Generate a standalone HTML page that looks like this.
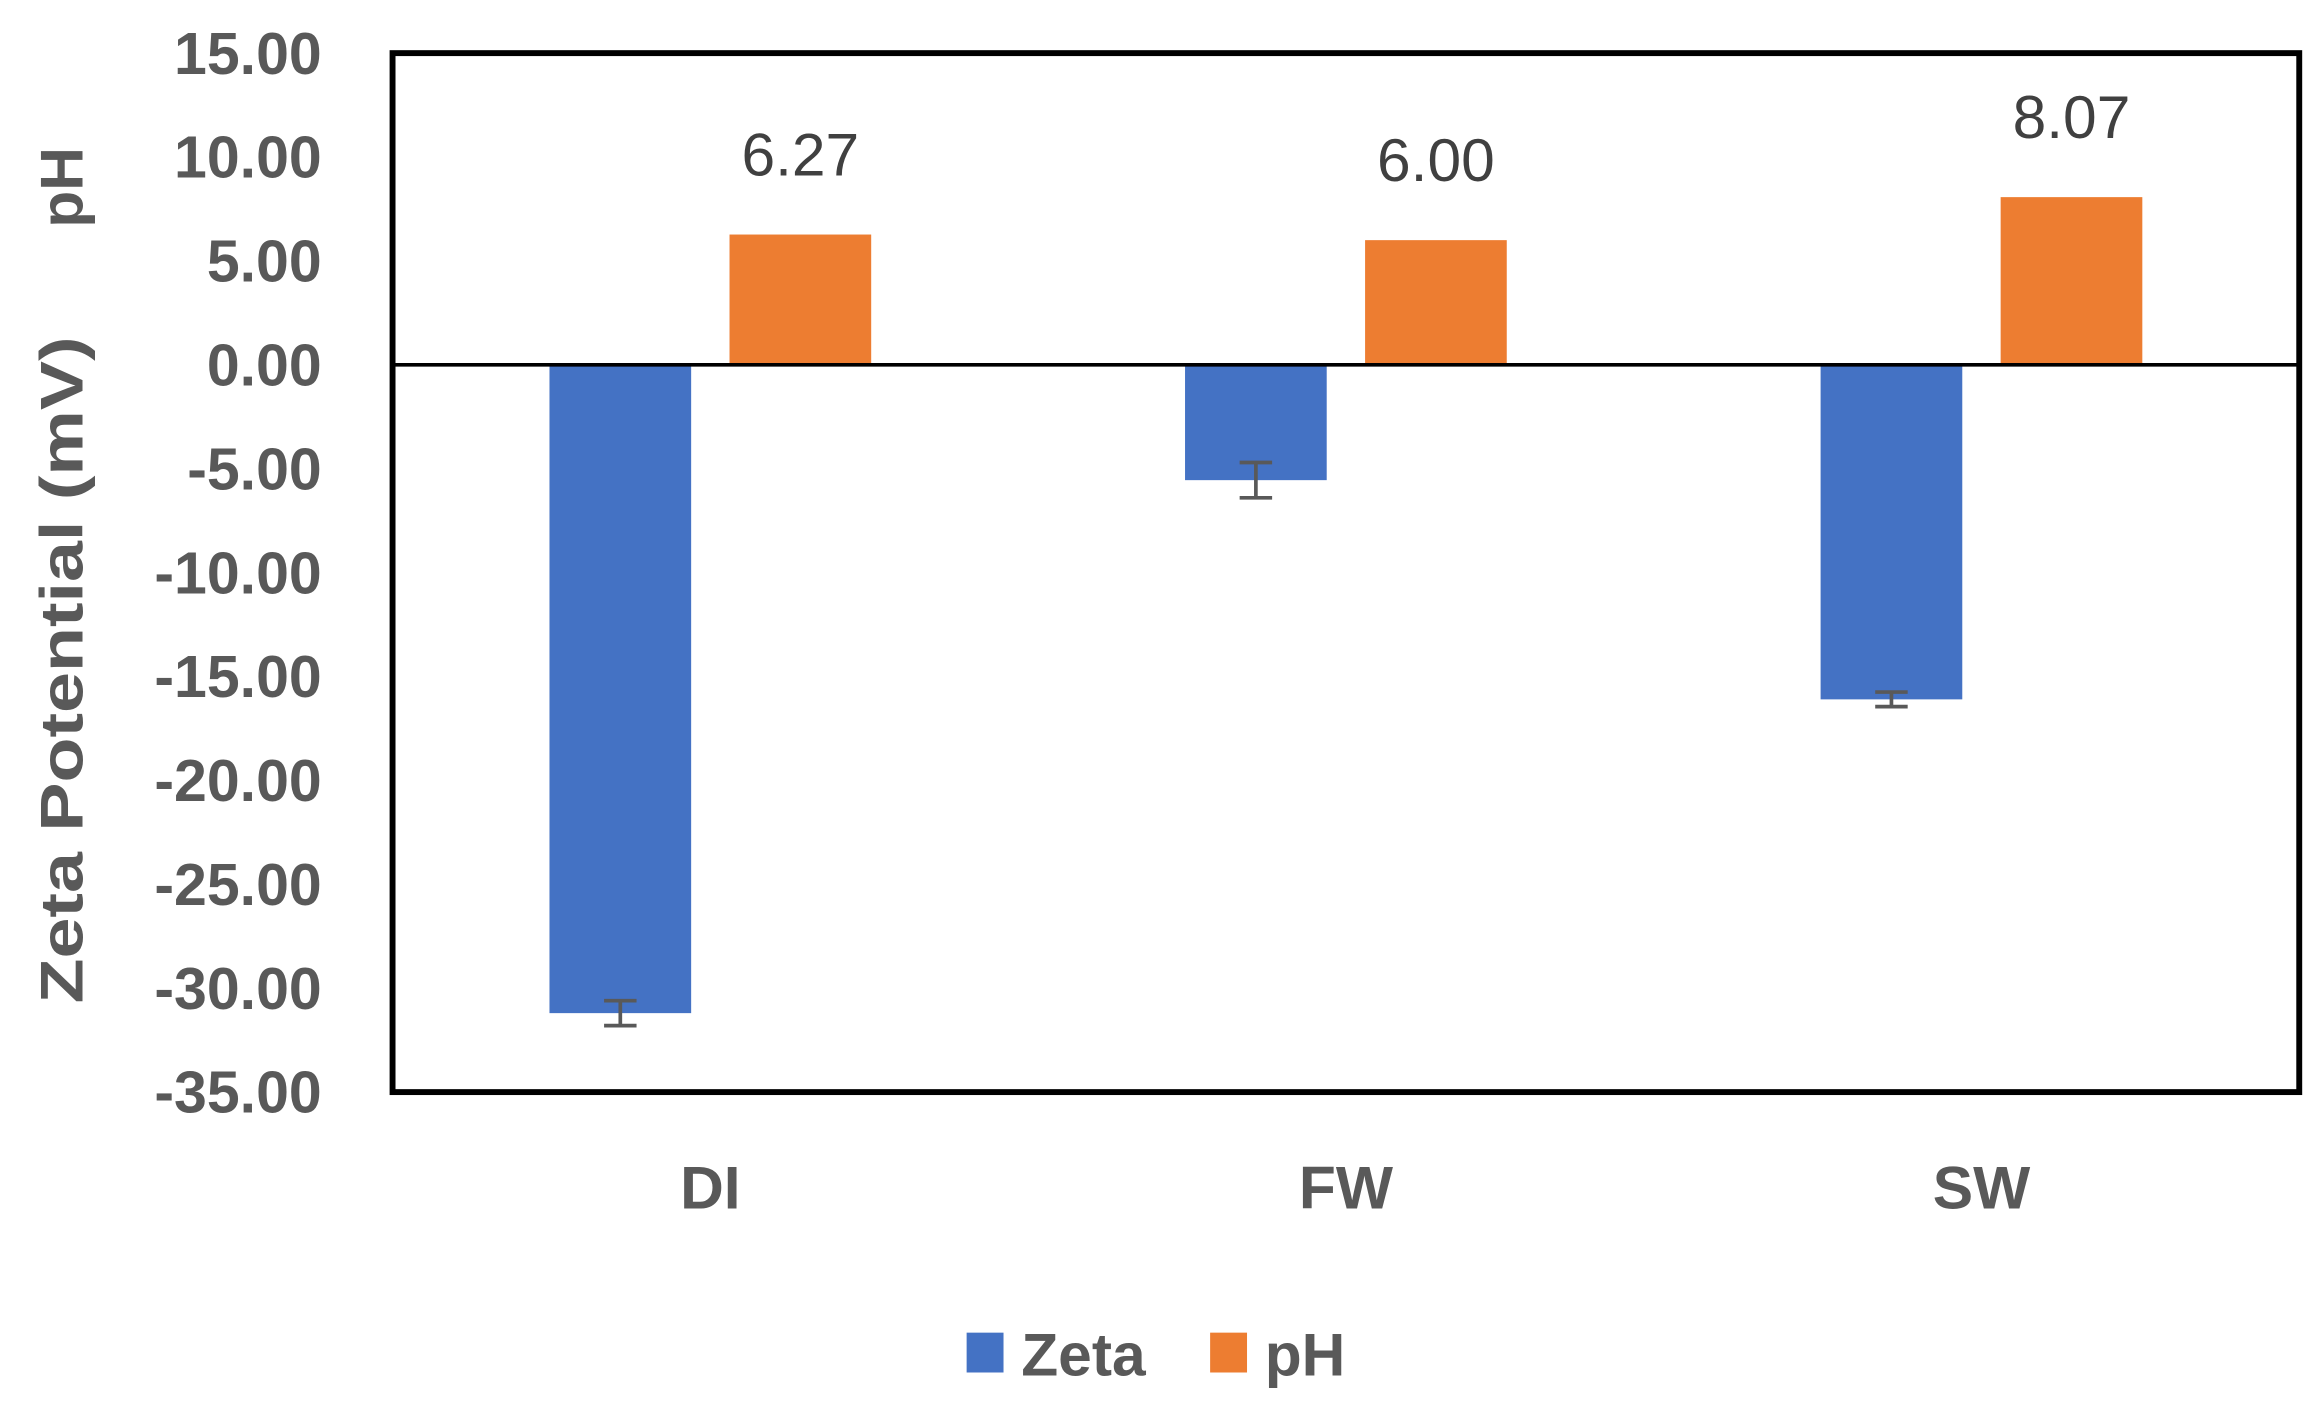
<!DOCTYPE html>
<html><head><meta charset="utf-8"><style>
html,body{margin:0;padding:0;background:#fff;}
svg{display:block;}
text{font-family:"Liberation Sans",sans-serif;}
</style></head><body>
<svg id="chart" width="2314" height="1415" viewBox="0 0 1568 958.8" preserveAspectRatio="none" xmlns="http://www.w3.org/2000/svg">
<g id="g"></g>
</svg>
<script>
const categories = ["DI","FW","SW"];
const zetaValues = [-31.2, -5.55, -16.1];
const zetaErrors = [0.6, 0.85, 0.35];
const phValues = [6.27, 6.00, 8.07];
const phLabels = ["6.27","6.00","8.07"];
const yTicks = [15,10,5,0,-5,-10,-15,-20,-25,-30,-35];
const yTickLabels = ["15.00","10.00","5.00","0.00","-5.00","-10.00","-15.00","-20.00","-25.00","-30.00","-35.00"];

const NS = "http://www.w3.org/2000/svg";
const g = document.getElementById('g');
const L = 266, R = 1558, T = 36, B = 740;
const yMin = -35, yMax = 15;
function y(v){ return T + (yMax - v) / (yMax - yMin) * (B - T); }
const bandW = (R - L) / categories.length;
function xCenter(i){ return L + bandW * (i + 0.5); }
const barW = 96, gap = 26;
function mk(tag, attrs){ const e = document.createElementNS(NS, tag); for (const k in attrs) e.setAttribute(k, attrs[k]); g.appendChild(e); return e; }

yTicks.forEach((t, i) => {
  const e = mk('text', {x: 218, y: y(t) + 14, 'text-anchor': 'end', 'font-size': 40, 'font-weight': 'bold', fill: '#595959'});
  e.textContent = yTickLabels[i];
  
  
});

categories.forEach((c, i) => {
  const cx = xCenter(i);
  const zx = cx - gap / 2 - barW, px = cx + gap / 2;
  const zv = zetaValues[i];
  const zb = mk('rect', {x: zx, y: y(0), width: barW, height: y(zv) - y(0), fill: '#4472c4'});
  
  
  const pv = phValues[i];
  const pb = mk('rect', {x: px, y: y(pv), width: barW, height: y(0) - y(pv), fill: '#ed7d31'});
  
  
  const ex = zx + barW / 2, e1 = y(zv + zetaErrors[i]), e2 = y(zv - zetaErrors[i]);
  const eb = mk('path', {d: `M${ex},${e1}V${e2}M${ex-11},${e1}H${ex+11}M${ex-11},${e2}H${ex+11}`, stroke: '#595959', 'stroke-width': 2.5, fill: 'none'});
  
  
  const vl = mk('text', {x: px + barW / 2, y: y(pv) - 40, 'text-anchor': 'middle', 'font-size': 41, fill: '#404040'});
  vl.textContent = phLabels[i];
  
  
  const cl = mk('text', {x: cx, y: 819, 'text-anchor': 'middle', 'font-size': 41, 'font-weight': 'bold', fill: '#595959'});
  cl.textContent = c;
  
  
});

const zl = mk('line', {x1: L, x2: R, y1: y(0), y2: y(0), stroke: '#000', 'stroke-width': 2.5});


const fr = mk('rect', {x: L, y: T, width: R - L, height: B - T, fill: 'none', stroke: '#000', 'stroke-width': 4});



const yt = mk('text', {x: 0, y: 0, transform: 'translate(56,454) rotate(-90)', 'text-anchor': 'middle', 'font-size': 41, 'font-weight': 'bold', fill: '#595959', textLength: 452, lengthAdjust: 'spacingAndGlyphs'});
yt.textContent = 'Zeta Potential (mV)';


const yt2 = mk('text', {x: 0, y: 0, transform: 'translate(56,127) rotate(-90)', 'text-anchor': 'middle', 'font-size': 41, 'font-weight': 'bold', fill: '#595959'});
yt2.textContent = 'pH';



const lz = mk('rect', {x: 655, y: 903, width: 25, height: 27, fill: '#4472c4'});


const lzt = mk('text', {x: 692, y: 932, 'font-size': 41, 'font-weight': 'bold', fill: '#595959'});
lzt.textContent = 'Zeta';


const lp = mk('rect', {x: 820, y: 903, width: 25, height: 27, fill: '#ed7d31'});


const lpt = mk('text', {x: 857, y: 932, 'font-size': 41, 'font-weight': 'bold', fill: '#595959'});
lpt.textContent = 'pH';


</script>
</body></html>
